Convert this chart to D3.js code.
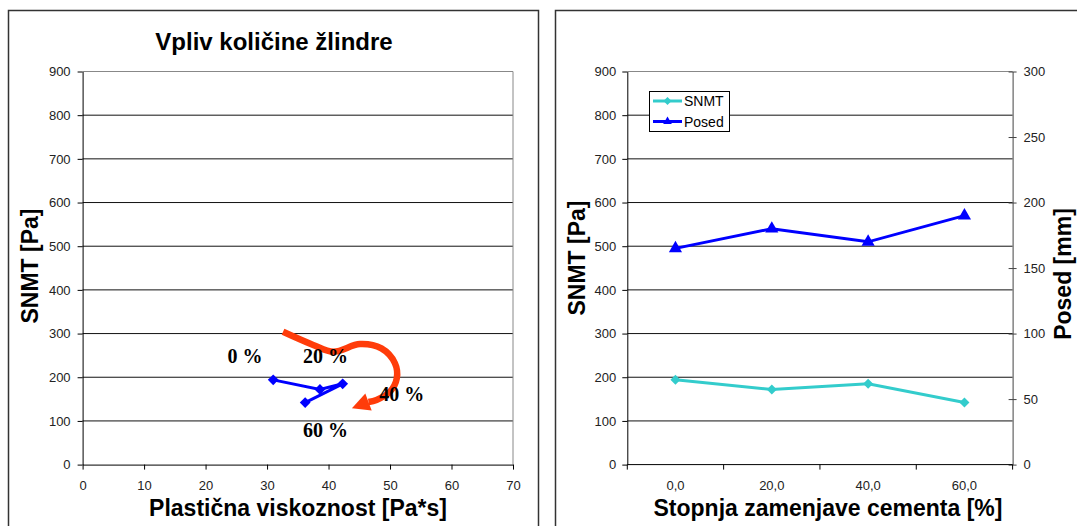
<!DOCTYPE html>
<html><head><meta charset="utf-8">
<script src="https://cdn.jsdelivr.net/npm/d3@7"></script>
<style>
body{margin:0;background:#fff;}
svg{display:block;}
</style></head><body>
<svg id="c" width="1077" height="526"></svg>
<script>
// ---- data ----
const replacementLabels = ["0,0", "20,0", "40,0", "60,0"];
const slagLabels = ["0 %", "20 %", "40 %", "60 %"];
const plasticViscosity = [31.0, 38.6, 42.3, 36.2];
const snmt = [194, 172, 185, 142];
const posed = [165, 180, 170, 190];
const yTicksSnmt = [0, 100, 200, 300, 400, 500, 600, 700, 800, 900];
const xTicksVisc = [0, 10, 20, 30, 40, 50, 60, 70];
const yTicksPosed = [0, 50, 100, 150, 200, 250, 300];
// annotation anchors (in data units of the left chart)
const slagLabelX = [26.4, 39.5, 51.9, 39.5];
const slagLabelY = [233, 233, 146, 63];
const arrowX = [32.6, 37.5, 40.8, 45.1, 48.6, 50.8, 51.1, 50.0, 47.8, 46.5];
const arrowY = [304, 274, 258.5, 276, 266, 232, 197.6, 167, 148, 143.3];
const arrowTip = [43.8, 128.9];

const SANS = "'Liberation Sans', Arial, sans-serif";
const SERIF = "'Liberation Serif', 'Times New Roman', serif";
const svg = d3.select("#c");

// frames
svg.append("rect").attr("x", 8.5).attr("y", 10.5).attr("width", 530).attr("height", 600)
  .attr("fill", "none").attr("stroke", "#333").attr("stroke-width", 1.5);
svg.append("rect").attr("x", 555.5).attr("y", 10.5).attr("width", 600).attr("height", 600)
  .attr("fill", "none").attr("stroke", "#333").attr("stroke-width", 1.5);

function styleAxis(g) {
  g.select(".domain").attr("stroke", "#000");
  g.selectAll(".tick line").attr("stroke", "#000");
  g.selectAll("text").attr("font-family", SANS).attr("font-size", 13).attr("fill", "#222");
}

// ================= LEFT CHART =================
const xL = d3.scaleLinear().domain([0, 70]).range([82.6, 513]);
const yL = d3.scaleLinear().domain([0, 900]).range([464.6, 71.5]);
const L = svg.append("g");

// gridlines
L.selectAll("line.grid").data(yTicksSnmt.filter(v => v > 0 && v < 900)).join("line")
  .attr("x1", xL(0)).attr("x2", xL(70)).attr("y1", d => yL(d)).attr("y2", d => yL(d))
  .attr("stroke", "#111").attr("stroke-width", 1);
// top & right border
L.append("line").attr("x1", xL(0)).attr("x2", xL(70)).attr("y1", yL(900)).attr("y2", yL(900)).attr("stroke", "#888");
L.append("line").attr("x1", xL(70)).attr("x2", xL(70)).attr("y1", yL(0)).attr("y2", yL(900)).attr("stroke", "#888");

const axL = L.append("g").attr("transform", `translate(${xL(0)},0)`)
  .call(d3.axisLeft(yL).tickValues(yTicksSnmt).tickSize(5).tickPadding(7).tickSizeOuter(0).tickFormat(d3.format("d")));
styleAxis(axL);
const axB = L.append("g").attr("transform", `translate(0,${yL(0)})`)
  .call(d3.axisBottom(xL).tickValues(xTicksVisc).tickSize(5).tickSizeOuter(0).tickFormat(d3.format("d")));
styleAxis(axB);
axB.selectAll("text").attr("dy", null).attr("y", 25.8);

// title & axis titles
svg.append("text").attr("x", 274).attr("y", 50).attr("text-anchor", "middle")
  .attr("font-family", SANS).attr("font-weight", "bold").attr("font-size", 24).text("Vpliv količine žlindre");
svg.append("text").attr("x", 298).attr("y", 516).attr("text-anchor", "middle")
  .attr("font-family", SANS).attr("font-weight", "bold").attr("font-size", 23).text("Plastična viskoznost [Pa*s]");
svg.append("text").attr("transform", "translate(37.5,266) rotate(-90)").attr("text-anchor", "middle")
  .attr("font-family", SANS).attr("font-weight", "bold").attr("font-size", 23).text("SNMT [Pa]");

// series
const ptsL = plasticViscosity.map((v, i) => [xL(v), yL(snmt[i])]);
L.append("path").attr("d", d3.line()(ptsL)).attr("fill", "none").attr("stroke", "#0000ff").attr("stroke-width", 3);
L.selectAll("path.dm").data(ptsL).join("path")
  .attr("d", d3.symbol(d3.symbolSquare, 58))
  .attr("transform", d => `translate(${d[0]},${d[1]}) rotate(45)`)
  .attr("fill", "#0000ff");

// arrow annotation
const arrowPts = arrowX.map((v, i) => [xL(v), yL(arrowY[i])]);
const ARROW = "#ff3c0a";
L.append("path").attr("d", d3.line().curve(d3.curveCatmullRom)(arrowPts))
  .attr("fill", "none").attr("stroke", ARROW).attr("stroke-width", 6.5);
{
  const B = arrowPts[arrowPts.length - 1];
  const T = [xL(arrowTip[0]), yL(arrowTip[1])];
  const dx = T[0] - B[0], dy = T[1] - B[1], len = Math.hypot(dx, dy);
  const nx = -dy / len, ny = dx / len, w = 9;
  const tri = [T, [B[0] + nx * w, B[1] + ny * w], [B[0] - nx * w, B[1] - ny * w]];
  L.append("path").attr("d", "M" + tri.join("L") + "Z").attr("fill", ARROW);
}
// percent labels
L.selectAll("text.pct").data(slagLabels).join("text")
  .attr("x", (d, i) => xL(slagLabelX[i])).attr("y", (d, i) => yL(slagLabelY[i]))
  .attr("text-anchor", "middle").attr("font-family", SERIF).attr("font-weight", "bold")
  .attr("font-size", 20).attr("xml:space", "preserve").text(d => d);

// ================= RIGHT CHART =================
const xR = d3.scaleBand().domain(replacementLabels).range([627.3, 1012.6]);
const yRL = d3.scaleLinear().domain([0, 900]).range([464.6, 71.5]);
const yRR = d3.scaleLinear().domain([0, 300]).range([464.6, 71.5]);
const R = svg.append("g");
const x0 = 627.3, x1 = 1012.6;

R.selectAll("line.grid").data(yTicksSnmt.filter(v => v > 0 && v < 900)).join("line")
  .attr("x1", x0).attr("x2", x1).attr("y1", d => yRL(d)).attr("y2", d => yRL(d))
  .attr("stroke", "#111").attr("stroke-width", 1);
R.append("line").attr("x1", x0).attr("x2", x1).attr("y1", yRL(900)).attr("y2", yRL(900)).attr("stroke", "#888");

const axRL = R.append("g").attr("transform", `translate(${x0},0)`)
  .call(d3.axisLeft(yRL).tickValues(yTicksSnmt).tickSize(5).tickPadding(6).tickSizeOuter(0).tickFormat(d3.format("d")));
styleAxis(axRL);
const axRR = R.append("g").attr("transform", `translate(${x1},0)`)
  .call(d3.axisRight(yRR).tickValues(yTicksPosed).tickSize(4).tickSizeOuter(0).tickFormat(d3.format("d")));
styleAxis(axRR);
axRR.select(".domain").attr("stroke", "#444");
axRR.selectAll(".tick line").attr("x1", -4).attr("x2", 4).attr("stroke", "#444");
axRR.selectAll("text").attr("x", 11);

// bottom axis with ticks at band boundaries
const axRB = R.append("g").attr("transform", `translate(0,${yRL(0)})`);
axRB.append("line").attr("x1", x0).attr("x2", x1).attr("stroke", "#000");
const bounds = replacementLabels.map(c => xR(c)).concat([x1]);
axRB.selectAll("line.tk").data(bounds).join("line")
  .attr("x1", d => d).attr("x2", d => d).attr("y1", 0).attr("y2", 5).attr("stroke", "#000");
axRB.selectAll("text").data(replacementLabels).join("text")
  .attr("x", d => xR(d) + xR.bandwidth() / 2).attr("y", 25.8).attr("text-anchor", "middle")
  .attr("font-family", SANS).attr("font-size", 13).attr("fill", "#222").text(d => d);

svg.append("text").attr("x", 828).attr("y", 516).attr("text-anchor", "middle")
  .attr("font-family", SANS).attr("font-weight", "bold").attr("font-size", 23).text("Stopnja zamenjave cementa [%]");
svg.append("text").attr("transform", "translate(584.5,258) rotate(-90)").attr("text-anchor", "middle")
  .attr("font-family", SANS).attr("font-weight", "bold").attr("font-size", 23).text("SNMT [Pa]");
svg.append("text").attr("transform", "translate(1071,274) rotate(-90)").attr("text-anchor", "middle")
  .attr("font-family", SANS).attr("font-weight", "bold").attr("font-size", 23).text("Posed [mm]");

const cx = d => xR(d) + xR.bandwidth() / 2;
const ptsS = replacementLabels.map((c, i) => [cx(c), yRL(snmt[i])]);
const ptsP = replacementLabels.map((c, i) => [cx(c), yRR(posed[i])]);
const TURQ = "#33cccc", BLUE = "#0000ff";
R.append("path").attr("d", d3.line()(ptsS)).attr("fill", "none").attr("stroke", TURQ).attr("stroke-width", 3);
R.append("path").attr("d", d3.line()(ptsP)).attr("fill", "none").attr("stroke", BLUE).attr("stroke-width", 3);
R.selectAll("path.ds").data(ptsS).join("path")
  .attr("d", d3.symbol(d3.symbolSquare, 50))
  .attr("transform", d => `translate(${d[0]},${d[1]}) rotate(45)`).attr("fill", TURQ);
R.selectAll("path.tr").data(ptsP).join("path")
  .attr("d", d3.symbol(d3.symbolTriangle, 75))
  .attr("transform", d => `translate(${d[0]},${d[1]})`).attr("fill", BLUE);

// legend
const lg = R.append("g");
lg.append("rect").attr("x", 649.5).attr("y", 91.5).attr("width", 80).attr("height", 40)
  .attr("fill", "#fff").attr("stroke", "#000").attr("stroke-width", 1);
const legendItems = [{name: "SNMT", color: TURQ, sym: d3.symbolSquare, rot: 45, y: 101}, {name: "Posed", color: BLUE, sym: d3.symbolTriangle, rot: 0, y: 121.5}];
legendItems.forEach(it => {
  lg.append("line").attr("x1", 653).attr("x2", 682).attr("y1", it.y).attr("y2", it.y)
    .attr("stroke", it.color).attr("stroke-width", 3);
  lg.append("path").attr("d", d3.symbol(it.sym, 32))
    .attr("transform", `translate(667.5,${it.y}) rotate(${it.rot})`).attr("fill", it.color);
  lg.append("text").attr("x", 684).attr("y", it.y + 5).attr("font-family", SANS)
    .attr("font-size", 14).attr("fill", "#000").text(it.name);
});
</script>
</body></html>
